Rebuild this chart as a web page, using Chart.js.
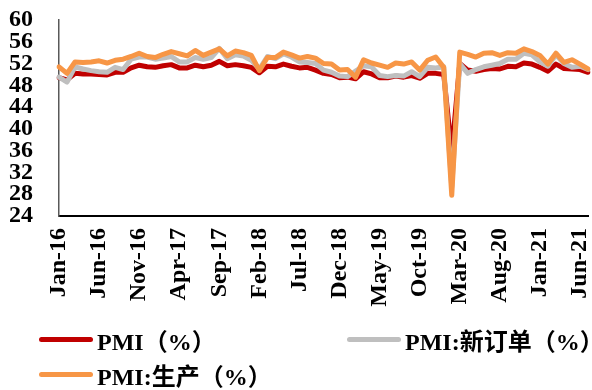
<!DOCTYPE html>
<html>
<head>
<meta charset="utf-8">
<script src="https://cdn.jsdelivr.net/npm/chart.js@4/dist/chart.umd.min.js"></script>
<style>
  html, body { margin: 0; padding: 0; background: #fff; }
  #wrap { position: relative; width: 592px; height: 390px; overflow: hidden; }
  #c { position: absolute; left: 0; top: 0; }
  .lg { position: absolute; display: flex; align-items: center; white-space: nowrap;
        font: bold 24px 'Liberation Serif', 'Times New Roman', 'Noto Sans CJK SC', serif; color: #000; }
  .lg .sw { width: 54px; height: 5px; border-radius: 3px; margin-right: 4px; }
</style>
</head>
<body>
<div id="wrap">
  <canvas id="c" width="592" height="390"></canvas>
  <div id="legend"></div>
</div>
<script>
// Monthly series, Jan-2016 .. Jul-2021
const months = [
  'Jan-16','Feb-16','Mar-16','Apr-16','May-16','Jun-16','Jul-16','Aug-16','Sep-16','Oct-16','Nov-16','Dec-16',
  'Jan-17','Feb-17','Mar-17','Apr-17','May-17','Jun-17','Jul-17','Aug-17','Sep-17','Oct-17','Nov-17','Dec-17',
  'Jan-18','Feb-18','Mar-18','Apr-18','May-18','Jun-18','Jul-18','Aug-18','Sep-18','Oct-18','Nov-18','Dec-18',
  'Jan-19','Feb-19','Mar-19','Apr-19','May-19','Jun-19','Jul-19','Aug-19','Sep-19','Oct-19','Nov-19','Dec-19',
  'Jan-20','Feb-20','Mar-20','Apr-20','May-20','Jun-20','Jul-20','Aug-20','Sep-20','Oct-20','Nov-20','Dec-20',
  'Jan-21','Feb-21','Mar-21','Apr-21','May-21','Jun-21','Jul-21'
];

const pmi = [
  49.4,49.0,50.2,50.1,50.1,50.0,49.9,50.4,50.4,51.2,51.7,51.4,
  51.3,51.6,51.8,51.2,51.2,51.7,51.4,51.7,52.4,51.6,51.8,51.6,
  51.3,50.3,51.5,51.4,51.9,51.5,51.2,51.3,50.8,50.2,50.0,49.4,
  49.5,49.2,50.5,50.1,49.4,49.4,49.7,49.5,49.8,49.3,50.2,50.2,
  50.0,35.7,52.0,50.8,50.6,50.9,51.1,51.0,51.5,51.4,52.1,51.9,
  51.3,50.6,51.9,51.1,51.0,50.9,50.4
];

const newOrders = [
  49.5,48.6,51.4,51.0,50.7,50.5,50.4,51.3,50.9,52.8,53.2,53.2,
  52.8,53.0,53.3,52.3,52.3,53.1,52.8,53.1,54.8,52.9,53.6,53.4,
  52.6,51.0,53.3,52.9,53.8,53.2,52.3,52.2,52.0,50.8,50.4,49.7,
  49.6,50.6,51.6,51.4,49.8,49.6,49.8,49.7,50.5,49.6,51.3,51.2,
  51.4,29.3,52.0,50.2,50.9,51.4,51.7,52.0,52.8,52.8,53.9,53.6,
  52.3,51.5,53.6,52.0,51.3,51.5,50.9
];

const production = [
  51.4,50.2,52.3,52.2,52.3,52.5,52.1,52.6,52.8,53.3,53.9,53.3,
  53.1,53.7,54.2,53.8,53.4,54.4,53.5,54.1,54.7,53.4,54.3,54.0,
  53.5,50.7,53.1,53.1,54.1,53.6,53.0,53.3,53.0,52.0,51.9,50.8,
  50.9,49.5,52.7,52.1,51.7,51.3,52.1,51.9,52.3,50.8,52.6,53.2,
  51.3,27.8,54.1,53.7,53.2,53.9,54.0,53.5,54.0,53.9,54.7,54.2,
  53.5,51.9,53.9,52.2,52.7,51.9,51.0
];

const seriesNames = ['PMI（%）', 'PMI:新订单（%）', 'PMI:生产（%）'];
const seriesColors = ['#C00000', '#BFBFBF', '#F79646'];

const yMin = 24, yMax = 60, yStep = 4;
const labelEvery = 5;

const fontFamily = "'Liberation Serif', 'Times New Roman', 'Noto Sans CJK SC', serif";

function lineSet(i, values, order) {
  return {
    label: seriesNames[i],
    data: values,
    borderColor: seriesColors[i],
    backgroundColor: seriesColors[i],
    borderWidth: 5,
    pointRadius: 0,
    tension: 0,
    borderJoinStyle: 'round',
    borderCapStyle: 'round',
    fill: false,
    order: order
  };
}

const chart = new Chart(document.getElementById('c'), {
  type: 'line',
  data: {
    labels: months,
    datasets: [
      lineSet(0, pmi, 3),
      lineSet(1, newOrders, 2),
      lineSet(2, production, 1)
    ]
  },
  options: {
    responsive: false,
    animation: false,
    devicePixelRatio: 1,
    layout: { padding: { top: 20, right: 4, left: 0, bottom: 0 } },
    plugins: {
      legend: { display: false },
      tooltip: { enabled: false }
    },
    scales: {
      x: {
        type: 'category',
        offset: false,
        grid: { display: false, drawTicks: false },
        border: { display: true, color: '#000', width: 2 },
        ticks: {
          autoSkip: false,
          minRotation: 90,
          maxRotation: 90,
          padding: 12,
          color: '#000',
          font: { family: fontFamily, size: 24, weight: 'bold' },
          callback: function (v, i) { return i % labelEvery === 0 ? months[i] : null; }
        },
        afterFit: function (s) {
          s.height = 390 - 216;
          s.paddingLeft = 0;
          s.paddingRight = 0;
        }
      },
      y: {
        min: yMin,
        max: yMax,
        grid: { display: false, drawTicks: false },
        border: { display: true, color: '#595959', width: 1.5 },
        ticks: {
          stepSize: yStep,
          autoSkip: false,
          padding: 26,
          color: '#000',
          font: { family: fontFamily, size: 24, weight: 'bold' }
        },
        afterFit: function (s) {
          s.width = 59;
          s.paddingTop = 0;
          s.paddingBottom = 0;
        }
      }
    }
  }
});

// Legend laid out in two columns below the axis labels
const legendPos = [
  { left: 39, top: 339 },
  { left: 347, top: 339 },
  { left: 39, top: 374 }
];
const legendEl = document.getElementById('legend');
chart.data.datasets.forEach(function (ds, i) {
  const item = document.createElement('div');
  item.className = 'lg';
  item.style.left = legendPos[i].left + 'px';
  item.style.top = (legendPos[i].top - 15) + 'px';
  item.style.height = '30px';
  const sw = document.createElement('span');
  sw.className = 'sw';
  sw.style.background = ds.borderColor;
  const tx = document.createElement('span');
  tx.textContent = ds.label;
  item.appendChild(sw);
  item.appendChild(tx);
  legendEl.appendChild(item);
});
</script>
</body>
</html>
